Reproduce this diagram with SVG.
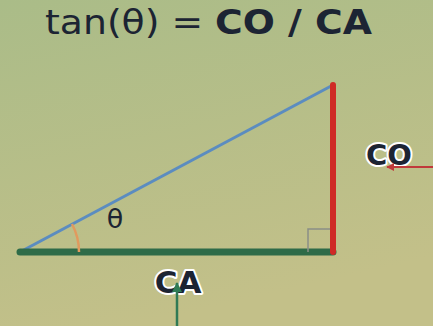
<svg xmlns="http://www.w3.org/2000/svg" width="433" height="326" viewBox="0 0 433 326">
<defs>
<linearGradient id="bg" x1="0" y1="0" x2="0.3" y2="1">
<stop offset="0" stop-color="#aabc88"/>
<stop offset="1" stop-color="#c3c089"/>
</linearGradient>
<marker id="arR" viewBox="0 0 10 10" refX="9" refY="5" markerWidth="4" markerHeight="4" orient="auto">
<path d="M0,0 L10,5 L0,10 z" fill="#c0393a"/>
</marker>
<marker id="arG" viewBox="0 0 10 10" refX="9" refY="5" markerWidth="4" markerHeight="4" orient="auto">
<path d="M0,0 L10,5 L0,10 z" fill="#2f7a55"/>
</marker>
</defs>
<style>
text{font-family:"DejaVu Sans",sans-serif;fill:#1c2433}
.lbl{font-weight:bold;text-anchor:middle;stroke:#ffffff;stroke-width:4;stroke-linejoin:round;paint-order:stroke}
</style>
<rect width="433" height="326" fill="url(#bg)"/>
<g id="title"><text x="45" y="34" font-size="33" textLength="327" lengthAdjust="spacingAndGlyphs">tan(θ) = <tspan font-weight="bold">CO / CA</tspan></text></g>
<g id="triangle">
<line x1="20" y1="252" x2="333" y2="85" stroke="#5b8cc0" stroke-width="3"/>
<line x1="20" y1="252" x2="333" y2="252" stroke="#2e6b48" stroke-width="7" stroke-linecap="round"/>
<line x1="333" y1="85" x2="333" y2="252" stroke="#cf2a26" stroke-width="6" stroke-linecap="round"/>
<path d="M308,252 V229 H330" fill="none" stroke="#8b8e86" stroke-width="1.5"/>
<path d="M79,252 A59,59 0 0 0 72,224" fill="none" stroke="#e19a5e" stroke-width="2.5"/>
</g>
<g id="theta"><text x="115" y="228" font-size="27" text-anchor="middle">θ</text></g>
<g id="CO"><text class="lbl" x="389" y="165" font-size="29">CO</text></g>
<g id="CA"><text class="lbl" x="178" y="293" font-size="31">CA</text></g>
<g id="connectors">
<line x1="433" y1="167" x2="387" y2="167" stroke="#c0393a" stroke-width="2" marker-end="url(#arR)"/>
<line x1="177" y1="326" x2="177" y2="283" stroke="#2f7a55" stroke-width="2.5" marker-end="url(#arG)"/>
</g>
</svg>
